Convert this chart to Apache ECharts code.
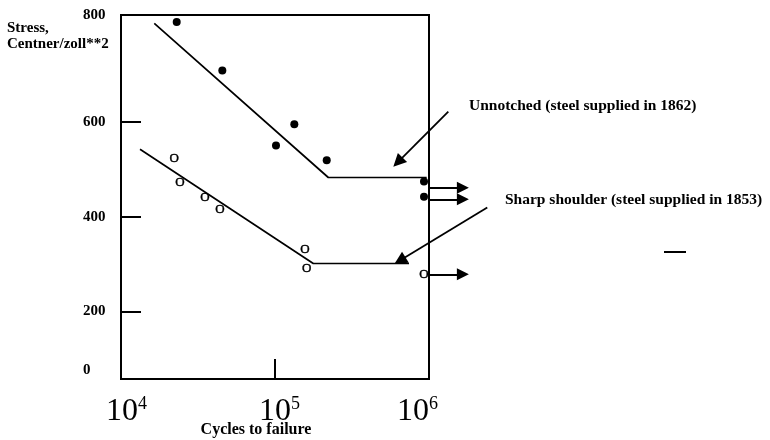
<!DOCTYPE html>
<html>
<head>
<meta charset="utf-8">
<script src="https://cdn.jsdelivr.net/npm/echarts@6/dist/echarts.min.js"></script>
<style>html,body{margin:0;padding:0;background:#fff}#c{width:770px;height:440px}</style>
</head>
<body>
<div id="c"></div>
<script>
// ---- data (cycles to failure, stress in Centner/zoll**2) ----
const unnotchedCycles = [23000, 45500, 101500, 133500, 216700, 928000, 928000];
const unnotchedStress = [810, 708, 550, 595, 519, 474, 442];
const shoulderCycles = [22190, 24160, 35130, 43940, 156600, 160600, 928000];
const shoulderStress = [522, 472, 441, 416, 330, 291, 279];
const unnotchedFitCycles = [16450, 221900, 966000];
const unnotchedFitStress = [807.5, 482.6, 482.6];
const shoulderFitCycles = [13290, 177300, 741600];
const shoulderFitStress = [542, 301.4, 301.4];
const runoutStartCycles = [1000000, 1000000, 1000000];
const runoutEndCycles = [1660000, 1660000, 1660000];
const runoutStress = [461, 436.7, 278.6];
const calloutFromCycles = [1335000, 2390000];
const calloutFromStress = [621.3, 419.4];
const calloutToCycles = [628000, 647000];
const calloutToStress = [515, 307.5];
const yTickLabels = ['0', '200', '400', '600', '800'];
const xTickExponents = ['4', '5', '6'];
const annotationTexts = ['Unnotched (steel supplied in 1862)', 'Sharp shoulder (steel supplied in 1853)'];

const serif = '"Liberation Serif", "Times New Roman", serif';
const zip = (a, b) => a.map((v, i) => [v, b[i]]);
const yLabelPos = [76.6, 200, 400, 600, 825];

const chart = echarts.init(document.getElementById('c'), null, {renderer: 'canvas'});
chart.setOption({
  animation: false,
  backgroundColor: '#fff',
  grid: {left: 121, right: 341, top: 15, bottom: 61, show: true, borderColor: '#000', borderWidth: 2, backgroundColor: 'transparent'},
  xAxis: {
    type: 'log', logBase: 10, min: 10000, max: 1000000,
    axisLine: {show: false},
    splitLine: {show: false},
    axisTick: {show: true, inside: true, length: 20, lineStyle: {color: '#000', width: 2}},
    axisLabel: {
      margin: 16,
      formatter: function (v) {
        const e = Math.round(Math.log10(v));
        const ex = xTickExponents[e - 4];
        if (e === 4) return '{b4|10}{s|' + ex + '}';
        if (e === 5) return '{b5|10}{s|' + ex + '}';
        return '{b|10}{s6|' + ex + '}';
      },
      rich: {
        b: {fontFamily: serif, fontSize: 32, lineHeight: 34, color: '#000'},
        b4: {fontFamily: serif, fontSize: 32, lineHeight: 34, color: '#000', padding: [0, 0, 0, 11]},
        b5: {fontFamily: serif, fontSize: 32, lineHeight: 34, color: '#000', padding: [0, 0, 0, 9]},
        s: {fontFamily: serif, fontSize: 18, lineHeight: 14, verticalAlign: 'top', color: '#000'},
        s6: {fontFamily: serif, fontSize: 18, lineHeight: 14, verticalAlign: 'top', color: '#000', padding: [0, 23, 0, 0]}
      }
    }
  },
  yAxis: {
    type: 'value', min: 58, max: 825,
    axisLine: {show: false},
    splitLine: {show: false},
    axisTick: {show: true, inside: true, length: 20, customValues: [200, 400, 600], lineStyle: {color: '#000', width: 2}},
    axisLabel: {
      customValues: yLabelPos,
      align: 'left', margin: 38, padding: [5, 0, 0, 0],
      fontFamily: serif, fontWeight: 'bold', fontSize: 15, color: '#000',
      formatter: function (v) {
        let bi = 0, bd = Infinity;
        yLabelPos.forEach((p, i) => { const d = Math.abs(p - v); if (d < bd) { bd = d; bi = i; } });
        return yTickLabels[bi];
      }
    }
  },
  series: [
    {
      name: 'Unnotched fit', type: 'line', data: zip(unnotchedFitCycles, unnotchedFitStress),
      symbol: 'none', lineStyle: {color: '#000', width: 1.7}, silent: true, z: 3
    },
    {
      name: 'Sharp shoulder fit', type: 'line', data: zip(shoulderFitCycles, shoulderFitStress),
      symbol: 'none', lineStyle: {color: '#000', width: 1.7}, silent: true, z: 3
    },
    {
      name: 'Unnotched', type: 'scatter', data: zip(unnotchedCycles, unnotchedStress),
      symbol: 'circle', symbolSize: 8, itemStyle: {color: '#000', opacity: 1}, silent: true, z: 4
    },
    {
      name: 'Sharp shoulder', type: 'scatter', data: zip(shoulderCycles, shoulderStress),
      symbol: 'circle', symbolSize: 1, itemStyle: {color: 'rgba(0,0,0,0)', opacity: 1}, silent: true, z: 4,
      label: {show: true, position: 'inside', formatter: 'O', fontFamily: serif, fontSize: 13, color: '#000', opacity: 1,
              textBorderColor: '#000', textBorderWidth: 0.4}
    },
    {
      name: 'Run-outs', type: 'lines', coordinateSystem: 'cartesian2d', clip: false, silent: true, z: 4,
      symbol: ['none', 'triangle'], symbolSize: [11, 12],
      lineStyle: {color: '#000', width: 2, opacity: 1, curveness: 0},
      data: runoutStress.map((s, i) => ({coords: [[runoutStartCycles[i], s], [runoutEndCycles[i], s]]}))
    },
    {
      name: 'Callouts', type: 'lines', coordinateSystem: 'cartesian2d', clip: false, silent: true, z: 4,
      symbol: ['none', 'triangle'], symbolSize: [13, 13],
      lineStyle: {color: '#000', width: 1.8, opacity: 1, curveness: 0},
      data: calloutFromCycles.map((c, i) => ({coords: [[c, calloutFromStress[i]], [calloutToCycles[i], calloutToStress[i]]]}))
    }
  ],
  graphic: [
    {type: 'text', x: 7, y: 36, style: {text: 'Stress,\nCentner/zoll**2', font: 'bold 15px ' + serif, lineHeight: 16, fill: '#000', verticalAlign: 'middle', align: 'left'}},
    {type: 'text', x: 256, y: 430, style: {text: 'Cycles to failure', font: 'bold 16px ' + serif, fill: '#000', verticalAlign: 'middle', align: 'center'}},
    {type: 'text', x: 469, y: 106, style: {text: annotationTexts[0], font: 'bold 15.5px ' + serif, fill: '#000', verticalAlign: 'middle', align: 'left'}},
    {type: 'text', x: 505, y: 200, style: {text: annotationTexts[1], font: 'bold 15.5px ' + serif, fill: '#000', verticalAlign: 'middle', align: 'left'}},
    {type: 'line', shape: {x1: 664, y1: 252, x2: 686, y2: 252}, style: {stroke: '#000', lineWidth: 2}}
  ]
});
</script>
</body>
</html>
